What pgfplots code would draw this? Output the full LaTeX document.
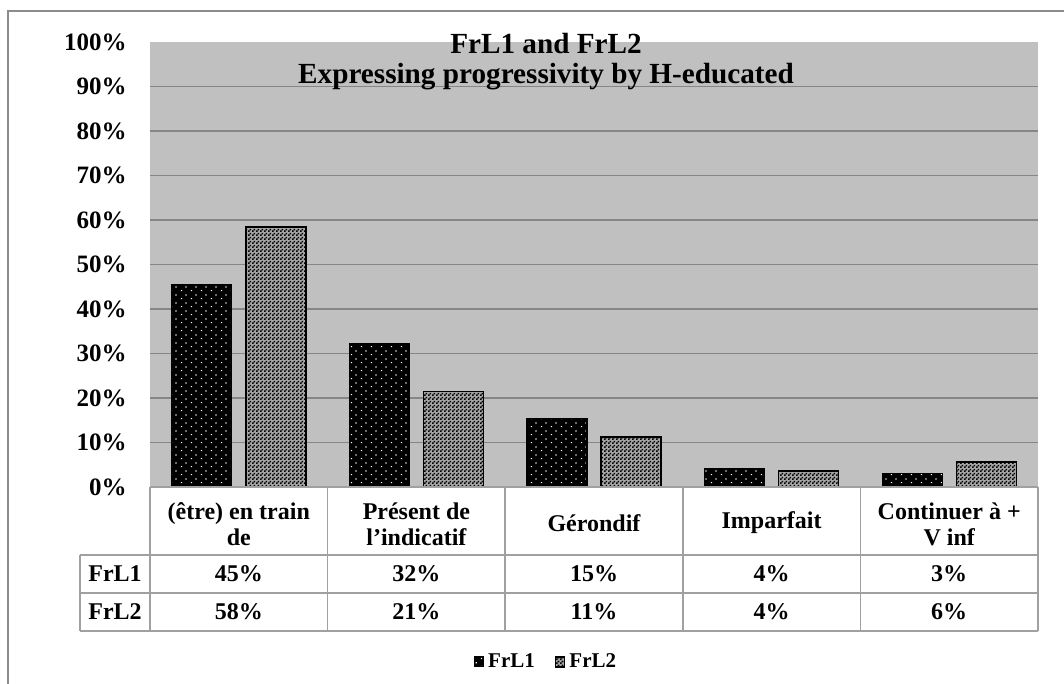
\documentclass[border=0pt]{standalone}
\usepackage{pgfplots}
\pgfplotsset{compat=1.18}
\usepackage{fontspec}
\setmainfont{Liberation Serif}
\usetikzlibrary{patterns}
\definecolor{plotbg}{HTML}{C0C0C0}
\definecolor{gridc}{HTML}{868686}
\definecolor{tablec}{HTML}{A0A0A0}
\definecolor{framec}{HTML}{8C8C8C}

\pgfdeclarepatternformonly{wdots}{\pgfqpoint{0pt}{0pt}}{\pgfqpoint{5pt}{4pt}}{\pgfqpoint{5pt}{4pt}}{%
 \pgfpathrectangle{\pgfqpoint{0.5pt}{0.5pt}}{\pgfqpoint{0.6pt}{0.6pt}}%
 \pgfpathrectangle{\pgfqpoint{3pt}{2.5pt}}{\pgfqpoint{0.6pt}{0.6pt}}%
 \pgfusepath{fill}}
\pgfdeclarepatternformonly{checker}{\pgfqpoint{0pt}{0pt}}{\pgfqpoint{2pt}{2pt}}{\pgfqpoint{2pt}{2pt}}{%
 \pgfpathrectangle{\pgfqpoint{0pt}{0pt}}{\pgfqpoint{1pt}{1pt}}%
 \pgfpathrectangle{\pgfqpoint{1pt}{1pt}}{\pgfqpoint{1pt}{1pt}}%
 \pgfusepath{fill}}

\begin{document}
\begin{tikzpicture}
\begin{scope}[x=0.5pt,y=-0.5pt]
\path[use as bounding box] (0,0) rectangle (1064,684);
\draw[framec, line width=0.7pt] (8,684) -- (8,11) -- (1064,11);
\end{scope}
\begin{axis}[
  at={(75pt,-243.5pt)}, anchor=south west,
  scale only axis, width=444pt, height=222.5pt,
  xmin=-0.5, xmax=4.5, ymin=0, ymax=100,
  ybar=7pt, bar width=30pt,
  xtick=\empty,
  ytick={0,10,20,30,40,50,60,70,80,90},
  yticklabels={0\%,10\%,20\%,30\%,40\%,50\%,60\%,70\%,80\%,90\%},
  extra y ticks={100}, extra y tick labels={100\%},
  extra y tick style={grid=none},
  ymajorgrids, grid style={gridc, line width=0.6pt},
  major tick length=0pt,
  axis line style={draw=none},
  axis background/.style={fill=plotbg},
  yticklabel style={font=\bfseries\fontsize{12.5}{13}\selectfont, anchor=east, inner sep=0pt, xshift=-11.5pt},
  legend columns=2,
  legend style={draw=none, fill=none, at={(0.447,-0.393)}, anchor=center,
    font=\bfseries\fontsize{10.5}{12}\selectfont,
    /tikz/every even column/.append style={column sep=8pt}},
  legend image code/.code={\draw[#1] (0pt,-2.5pt) rectangle (4.6pt,2.5pt);},
]
\addplot[draw=black, line width=0.6pt, fill=black, postaction={pattern=wdots, pattern color=white}]
  coordinates {(0,45.4) (1,32.2) (2,15.4) (3,4.1) (4,3.1)};
\addplot[draw=black, line width=0.7pt, fill=black!35, postaction={pattern=checker, pattern color=black}]
  coordinates {(0,58.4) (1,21.4) (2,11.2) (3,3.6) (4,5.6)};
\legend{FrL1, FrL2}
\end{axis}
\begin{scope}[x=0.5pt,y=-0.5pt]
% title
\node[align=center, font=\bfseries\fontsize{14.6}{15}\selectfont] at (546,62) {FrL1 and FrL2\\Expressing progressivity by H-educated};
% table lines
\draw[tablec, line width=0.75pt] (150,487) -- (1038,487);
\draw[tablec, line width=0.75pt] (80,555) -- (1038,555);
\draw[tablec, line width=0.75pt] (80,593) -- (1038,593);
\draw[tablec, line width=0.75pt] (80,631) -- (1038,631);
\draw[tablec, line width=0.75pt] (80,555) -- (80,631);
\foreach \xx in {150,327.6,505.2,682.8,860.4,1038} {
  \draw[tablec, line width=0.75pt] (\xx,487) -- (\xx,631);
}
% header
\begin{scope}[every node/.style={align=center, font=\bfseries\fontsize{12}{13}\selectfont}]
\node at (238.8,524) {(être) en train\\de};
\node at (416.4,524) {Présent de\\l'indicatif};
\node at (594,523) {Gérondif};
\node at (771.6,523) {Imparfait};
\node at (949.2,524) {Continuer à +\\V inf};
\node at (115,574) {FrL1};
\node at (115,612) {FrL2};
\node at (238.8,574) {45\%};
\node at (416.4,574) {32\%};
\node at (594,574) {15\%};
\node at (771.6,574) {4\%};
\node at (949.2,574) {3\%};
\node at (238.8,612) {58\%};
\node at (416.4,612) {21\%};
\node at (594,612) {11\%};
\node at (771.6,612) {4\%};
\node at (949.2,612) {6\%};
\end{scope}
\end{scope}
\end{tikzpicture}
\end{document}
